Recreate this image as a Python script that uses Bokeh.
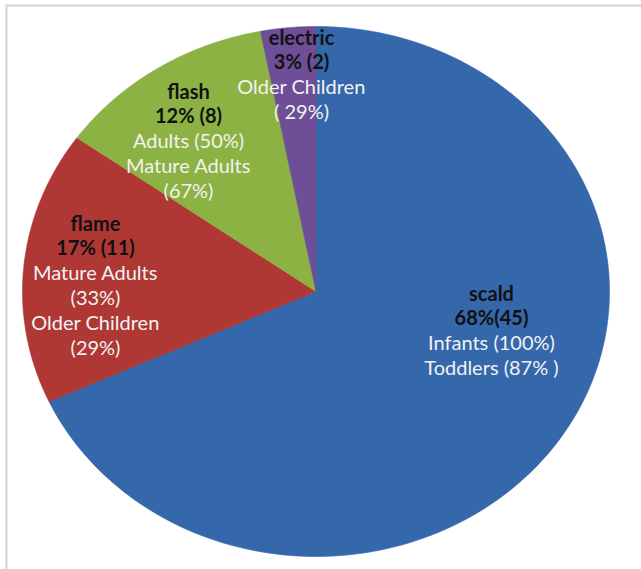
import numpy as np
from bokeh.plotting import figure
from bokeh.models import Range1d, BoxAnnotation, ColumnDataSource
from bokeh.embed import file_html
from bokeh.resources import INLINE
from bokeh.core.properties import value

# ---- data ----
categories = ["scald", "flame", "flash", "electric"]
counts = [45, 11, 8, 2]
percent_labels = ["68%(45)", "17% (11)", "12% (8)", "3% (2)"]
detail_labels = [
    ["Infants (100%)", "Toddlers (87% )"],
    ["Mature Adults", "(33%)", "Older Children", "(29%)"],
    ["Adults (50%)", "Mature Adults", "(67%)"],
    ["Older Children", "( 29%)"],
]
colors = ["#3567AB", "#AF3835", "#8CB244", "#6E4E96"]

# ---- layout (pixels) ----
W, H = 641, 569
CX, CY, RX, RY = 315.5, 291.0, 293.5, 265.0
label_anchor_px = [(491, 292), (95, 222), (188, 90), (301, 36)]
LINE_STEP = 24.8

def xd(px):
    return (px - CX) / RX

def yd(py):
    return (CY - py) / RY

p = figure(width=W, height=H, output_backend="svg", toolbar_location=None,
           x_range=Range1d(xd(0), xd(W)), y_range=Range1d(yd(H), yd(0)),
           min_border=0, outline_line_color=None)
p.axis.visible = False
p.grid.visible = False
p.background_fill_color = "white"

total = float(sum(counts))
fr = np.array(counts) / total
ends = np.cumsum(fr)
starts = ends - fr
xs, ys = [], []
for s, e in zip(starts, ends):
    t = np.linspace(np.pi / 2 - 2 * np.pi * s, np.pi / 2 - 2 * np.pi * e, 200)
    xs.append([0.0] + list(np.cos(t)) + [0.0])
    ys.append([0.0] + list(np.sin(t)) + [0.0])
p.patches(xs, ys, fill_color=colors, line_color=colors, line_width=0.6)

# labels
tx, ty, tt, tc, tw = [], [], [], [], []
for i, cat in enumerate(categories):
    ax, ay = label_anchor_px[i]
    lines = [(cat, "#111111", "bold"), (percent_labels[i], "#111111", "bold")]
    lines += [(d, "#F2F2F2", "normal") for d in detail_labels[i]]
    for k, (txt, col, wt) in enumerate(lines):
        tx.append(xd(ax))
        ty.append(yd(ay + k * LINE_STEP))
        tt.append(txt)
        tc.append(col)
        tw.append(wt)
src = ColumnDataSource(dict(x=tx, y=ty, text=tt, color=tc, weight=tw))
p.text(x="x", y="y", text="text", source=src, text_color="color",
       text_font_style="weight", text_font=value("Lato"),
       text_font_size="20px", text_align="center", text_baseline="middle")

# frame border (left and top)
p.add_layout(BoxAnnotation(left=xd(6), top=yd(5), right=xd(W + 10), bottom=yd(H + 10),
                           fill_alpha=0, line_color="#6E6E6E", line_width=2))

open("out.html", "w").write(file_html(p, INLINE))
